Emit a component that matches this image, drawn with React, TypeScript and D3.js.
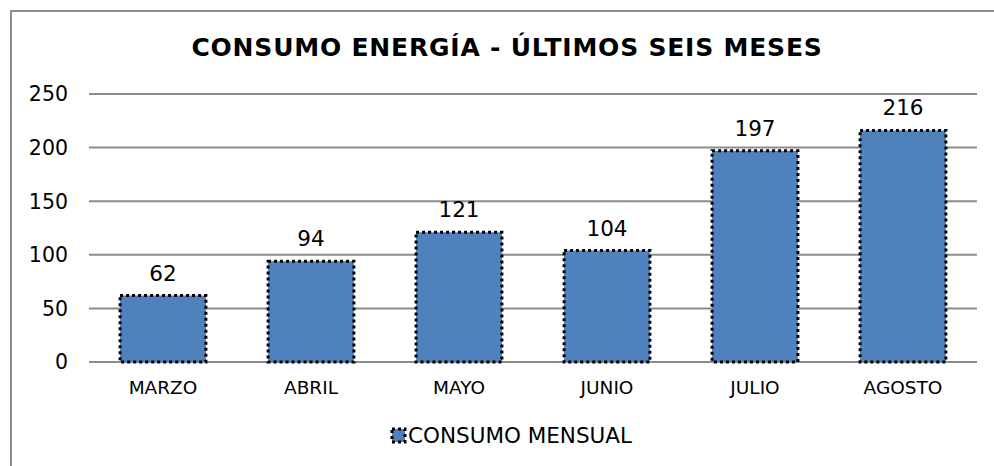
import React from "react";
import { scaleBand, scaleLinear } from "d3";

const months = ["MARZO", "ABRIL", "MAYO", "JUNIO", "JULIO", "AGOSTO"];
const consumo = [62, 94, 121, 104, 197, 216];
const yTicks = [0, 50, 100, 150, 200, 250];

const width = 994;
const height = 466;
const margin = { top: 94, right: 17, bottom: 104, left: 89 };
const innerWidth = width - margin.left - margin.right;
const innerHeight = height - margin.top - margin.bottom;
const font = "'DejaVu Sans', Verdana, sans-serif";
const blue = "#4F81BD";

export default function App() {
  const x = scaleBand<string>()
    .domain(months)
    .range([0, innerWidth])
    .paddingInner(0.42)
    .paddingOuter(0.21);
  const y = scaleLinear().domain([0, 250]).range([innerHeight, 0]);

  return (
    <svg
      width={width}
      height={height}
      style={{ position: "absolute", left: 0, top: 0 }}
      fontFamily={font}
    >
      <rect width={width} height={height} fill="white" />
      <rect
        x={11}
        y={11}
        width={width + 20}
        height={height + 20}
        fill="none"
        stroke="#8c8c8c"
        strokeWidth={2}
      />
      <text
        x={507}
        y={56}
        textAnchor="middle"
        fontSize={25}
        fontWeight="bold"
        letterSpacing={0.8}
      >
        CONSUMO ENERGÍA - ÚLTIMOS SEIS MESES
      </text>
      <g transform={`translate(${margin.left}, ${margin.top})`}>
        {yTicks.map((t) => (
          <g key={t} transform={`translate(0, ${y(t)})`}>
            <line x2={innerWidth} stroke="#8c8c8c" strokeWidth={2} />
            <text x={-21} dy="0.36em" textAnchor="end" fontSize={20.5}>
              {t}
            </text>
          </g>
        ))}
        {consumo.map((v, i) => {
          const bx = x(months[i])!;
          return (
            <g key={months[i]}>
              <rect
                x={bx}
                y={y(v)}
                width={x.bandwidth()}
                height={innerHeight - y(v)}
                fill={blue}
                stroke="black"
                strokeWidth={3}
                strokeDasharray="3 3"
              />
              <text
                x={bx + x.bandwidth() / 2}
                y={y(v) - 15}
                textAnchor="middle"
                fontSize={21.5}
              >
                {v}
              </text>
              <text
                x={bx + x.bandwidth() / 2}
                y={innerHeight + 32}
                textAnchor="middle"
                fontSize={18.5}
              >
                {months[i]}
              </text>
            </g>
          );
        })}
      </g>
      <rect
        x={392}
        y={429}
        width={13}
        height={13}
        fill={blue}
        stroke="black"
        strokeWidth={3}
        strokeDasharray="3 3"
      />
      <text x={408} y={443} fontSize={21.5}>
        CONSUMO MENSUAL
      </text>
    </svg>
  );
}
